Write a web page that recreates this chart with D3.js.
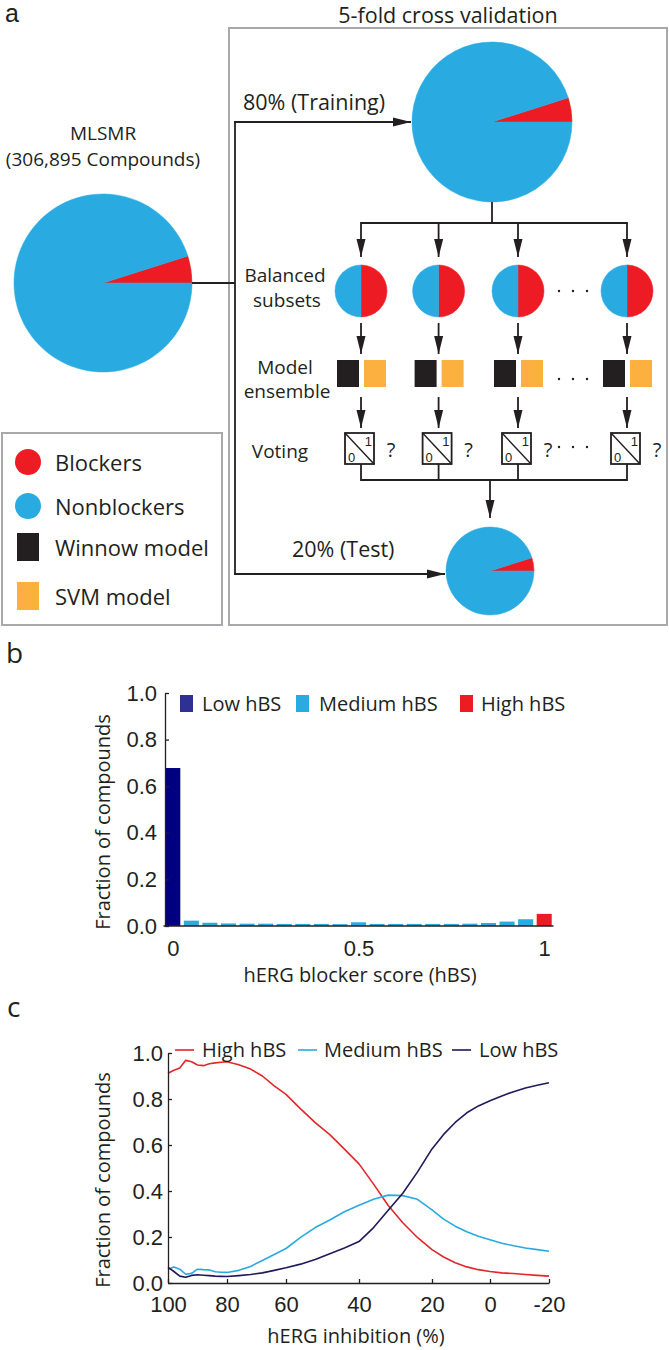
<!DOCTYPE html>
<html>
<head>
<meta charset="utf-8">
<script src="https://cdn.jsdelivr.net/npm/d3@7"></script>
<style>
  body { margin: 0; background: #fff; }
  svg text { fill: #231f20; }
</style>
</head>
<body>
<svg id="fig" width="669" height="1350"></svg>
<script>
// ---------- data ----------
var pieGroups = ["Blockers", "Nonblockers"]
var mlsmrSplit = [0.049, 0.951]     // blockers / nonblockers
var balancedSplit = [0.5, 0.5]
var legendItems = ["Blockers", "Nonblockers", "Winnow model", "SVM model"]

var hbsBins = [0, 0.05, 0.1, 0.15, 0.2, 0.25, 0.3, 0.35, 0.4, 0.45, 0.5,
               0.55, 0.6, 0.65, 0.7, 0.75, 0.8, 0.85, 0.9, 0.95, 1]
var hbsFraction = [0.678, 0.023, 0.014, 0.011, 0.010, 0.010, 0.009, 0.009, 0.009, 0.008, 0.016,
                   0.009, 0.009, 0.009, 0.009, 0.009, 0.010, 0.013, 0.019, 0.029, 0.052]
var hbsClass = ["Low", "Medium", "Medium", "Medium", "Medium", "Medium", "Medium", "Medium",
                "Medium", "Medium", "Medium", "Medium", "Medium", "Medium", "Medium", "Medium",
                "Medium", "Medium", "Medium", "Medium", "High"]
var hbsTicks = [0, 0.5, 1]
var fracTicks = [0, 0.2, 0.4, 0.6, 0.8, 1]

var inhibition = [100, 98, 96, 94, 92, 90, 88, 86, 84, 82, 80, 76, 72, 68, 64, 60, 56, 52,
                  48, 44, 40, 36, 32, 28, 24, 20, 16, 12, 8, 4, 0, -4, -8, -12, -16, -20]
var highHbs = [0.912, 0.925, 0.935, 0.968, 0.962, 0.948, 0.945, 0.953, 0.957, 0.960, 0.962, 0.949,
               0.930, 0.900, 0.857, 0.820, 0.757, 0.697, 0.645, 0.582, 0.518, 0.430, 0.337, 0.262,
               0.198, 0.145, 0.113, 0.088, 0.070, 0.058, 0.050, 0.044, 0.041, 0.037, 0.033, 0.030]
var mediumHbs = [0.060, 0.070, 0.060, 0.038, 0.042, 0.060, 0.058, 0.057, 0.049, 0.047, 0.046, 0.055,
                 0.072, 0.098, 0.124, 0.150, 0.198, 0.241, 0.274, 0.310, 0.338, 0.364, 0.382, 0.380,
                 0.364, 0.318, 0.278, 0.247, 0.223, 0.203, 0.188, 0.173, 0.162, 0.152, 0.145, 0.138]
var lowHbs = [0.068, 0.050, 0.030, 0.025, 0.033, 0.036, 0.034, 0.032, 0.030, 0.029, 0.028, 0.032,
              0.037, 0.044, 0.055, 0.066, 0.082, 0.102, 0.127, 0.152, 0.180, 0.241, 0.316, 0.390,
              0.482, 0.583, 0.646, 0.698, 0.740, 0.770, 0.792, 0.813, 0.832, 0.848, 0.860, 0.871]
var inhibitionTicks = [100, 80, 60, 40, 20, 0, -20]

// ---------- style ----------
var SANS = "'Open Sans', sans-serif"
var NUM = "'Liberation Sans', Arial, sans-serif"
var INK = "#231f20"
var pieColor = { Blockers: "#ed1c24", Nonblockers: "#29abe2" }
var modelColor = ["#231f20", "#fbb040"]
var barColor = { Low: "#000080", Medium: "#29abe2", High: "#ed1c24" }
var keyColor = { Low: "#2e3192", Medium: "#29abe2", High: "#ed1c24" }
var lineColor = { High: "#e2262c", Medium: "#2aa9e0", Low: "#1f1a5c" }

var svg = d3.select("#fig")

function txt(sel, x, y, s, o) {
  o = o || {}
  return sel.append("text")
    .attr("x", x).attr("y", y)
    .attr("text-anchor", o.anchor || "start")
    .attr("font-size", o.size || 20)
    .attr("font-family", o.family || SANS)
    .text(s)
}

svg.append("defs").append("marker")
  .attr("id", "ah")
  .attr("markerUnits", "userSpaceOnUse")
  .attr("viewBox", "-18 -5 18 10")
  .attr("refX", 0).attr("refY", 0)
  .attr("markerWidth", 18).attr("markerHeight", 10)
  .attr("orient", "auto")
  .append("path").attr("d", "M0,0L-18,-4.5L-18,4.5Z").attr("fill", INK)

function seg(sel, x1, y1, x2, y2, arrow) {
  var l = sel.append("line")
    .attr("x1", x1).attr("y1", y1).attr("x2", x2).attr("y2", y2)
    .attr("stroke", INK).attr("stroke-width", 1.8)
  if (arrow) l.attr("marker-end", "url(#ah)")
  return l
}

function drawPie(sel, cx, cy, r, split, start) {
  var pie = d3.pie().sort(null).startAngle(start).endAngle(start + 2 * Math.PI)
  var arc = d3.arc().innerRadius(0).outerRadius(r)
  sel.append("g").attr("transform", "translate(" + cx + "," + cy + ")")
    .selectAll("path").data(pie(split)).join("path")
    .attr("d", arc)
    .attr("fill", function (d, i) { return pieColor[pieGroups[i]] })
    .attr("stroke", function (d, i) { return pieColor[pieGroups[i]] })
    .attr("stroke-width", 0.5)
}

// ================= panel a =================
var a = svg.append("g")
txt(a, 5, 22, "a", { size: 25, family: NUM })
txt(a, 448, 23, "5-fold cross validation", { anchor: "middle", size: 21.5 })

a.append("rect").attr("x", 229).attr("y", 28).attr("width", 438).attr("height", 597)
  .attr("fill", "none").attr("stroke", "#a7a9ac").attr("stroke-width", 2)
a.append("rect").attr("x", 2).attr("y", 433).attr("width", 220).attr("height", 192)
  .attr("fill", "none").attr("stroke", "#a7a9ac").attr("stroke-width", 2)

var blockStart = Math.PI / 2 - 2 * Math.PI * mlsmrSplit[0]

// MLSMR
txt(a, 103, 140, "MLSMR", { anchor: "middle", size: 19 })
txt(a, 103, 166, "(306,895 Compounds)", { anchor: "middle", size: 19 })
drawPie(a, 103, 283, 89, mlsmrSplit, blockStart)

// split arrows
seg(a, 192, 283, 235, 283)
seg(a, 235, 122, 235, 574)
seg(a, 234, 122, 411, 122, true)
seg(a, 234, 574, 445, 574, true)
txt(a, 243, 110, "80% (Training)", { size: 21.5 })
txt(a, 292, 557, "20% (Test)", { size: 21.5 })

// training pie
drawPie(a, 492, 122, 80, mlsmrSplit, blockStart)

var cols = [361, 438.6, 518, 627]
seg(a, 492, 202, 492, 223)
seg(a, cols[0], 223, cols[3], 223)
cols.forEach(function (c) {
  seg(a, c, 222, c, 257, true)
  drawPie(a, c, 291, 26, balancedSplit, 0)
  seg(a, c, 323, c, 354, true)
  a.append("rect").attr("x", c - 24).attr("y", 360).attr("width", 22).attr("height", 27).attr("fill", modelColor[0])
  a.append("rect").attr("x", c + 3).attr("y", 360).attr("width", 22).attr("height", 27).attr("fill", modelColor[1])
  seg(a, c, 397, c, 428, true)
  a.append("rect").attr("x", c - 16).attr("y", 433).attr("width", 29).attr("height", 31)
    .attr("fill", "#fff").attr("stroke", INK).attr("stroke-width", 1.8)
  seg(a, c - 16, 433, c + 13, 464).attr("stroke-width", 1.4)
  txt(a, c + 11, 446, "1", { anchor: "end", size: 13, family: NUM })
  txt(a, c - 13, 462, "0", { size: 13, family: NUM })
  txt(a, c + 30, 457, "?", { anchor: "middle", size: 20 })
  seg(a, c, 464, c, 481)
})
seg(a, cols[0], 480, cols[3], 480)
seg(a, 490, 480, 490, 518, true)

// ellipsis dots
;[291, 379, 447].forEach(function (y) {
  a.selectAll(null).data([559, 573, 587]).join("circle")
    .attr("cx", function (d) { return d }).attr("cy", y).attr("r", 1.2).attr("fill", INK)
})

txt(a, 285, 282, "Balanced", { anchor: "middle", size: 19 })
txt(a, 287, 307, "subsets", { anchor: "middle", size: 19 })
txt(a, 285, 374, "Model", { anchor: "middle", size: 19 })
txt(a, 287, 398, "ensemble", { anchor: "middle", size: 19 })
txt(a, 280, 458, "Voting", { anchor: "middle", size: 19 })

// test pie
drawPie(a, 490, 571, 44, mlsmrSplit, blockStart)

// legend
var legY = [462, 506, 547, 596]
legendItems.forEach(function (name, i) {
  if (i < 2) {
    a.append("circle").attr("cx", 28).attr("cy", legY[i]).attr("r", 13).attr("fill", pieColor[name])
  } else {
    a.append("rect").attr("x", 17).attr("y", legY[i] - 14).attr("width", 22).attr("height", 28)
      .attr("fill", modelColor[i - 2])
  }
  txt(a, 55, legY[i] + 9, name, { size: 22 })
})

// ================= panel b =================
var b = svg.append("g")
txt(b, 6, 663, "b", { size: 28 })

var yb = d3.scaleLinear().domain([0, 1]).range([926, 693])
var xBand = d3.scaleBand().domain(hbsBins).range([163.5, 553.5]).paddingInner(0.19).paddingOuter(0.095)
var xb = d3.scaleLinear().domain([0, 1])
  .range([xBand(0) + xBand.bandwidth() / 2, xBand(1) + xBand.bandwidth() / 2])

b.selectAll("rect.bar").data(hbsBins).join("rect").attr("class", "bar")
  .attr("x", function (d) { return xBand(d) })
  .attr("width", xBand.bandwidth())
  .attr("y", function (d, i) { return yb(hbsFraction[i]) })
  .attr("height", function (d, i) { return yb(0) - yb(hbsFraction[i]) })
  .attr("fill", function (d, i) { return barColor[hbsClass[i]] })

b.append("g").attr("transform", "translate(165,0)")
  .call(d3.axisLeft(yb).tickValues(fracTicks).tickFormat(d3.format(".1f"))
    .tickSizeInner(-4).tickSizeOuter(0).tickPadding(8))
var bxAxis = b.append("g").attr("transform", "translate(0,926)")
  .call(d3.axisBottom(xb).tickValues(hbsTicks).tickFormat(function (d) { return String(d) })
    .tickSize(0).tickPadding(14))
bxAxis.select(".domain").remove()
b.append("line").attr("x1", xBand.range()[0]).attr("x2", xBand.range()[1])
  .attr("y1", 926).attr("y2", 926).attr("stroke", INK).attr("stroke-width", 1.3)

txt(b, 360, 982, "hERG blocker score (hBS)", { anchor: "middle", size: 20 })
txt(b, 0, 0, "Fraction of compounds", { anchor: "middle", size: 20 })
  .attr("transform", "translate(110,822) rotate(-90)")

var bKey = [["Low", 180, 202], ["Medium", 296, 319], ["High", 460, 481]]
bKey.forEach(function (k) {
  b.append("rect").attr("x", k[1]).attr("y", 695).attr("width", 13).attr("height", 17).attr("fill", keyColor[k[0]])
  txt(b, k[2], 711, k[0] + " hBS", { size: 20 })
})

// ================= panel c =================
var c = svg.append("g")
txt(c, 7, 1017, "c", { size: 28 })

var yc = d3.scaleLinear().domain([0, 1]).range([1283, 1053])
var xc = d3.scaleLinear().domain(inhibitionTicks).range([168, 227, 286, 359, 432, 490, 549])

var series = [["High", highHbs], ["Medium", mediumHbs], ["Low", lowHbs]]
var line = d3.line()
  .x(function (d, i) { return xc(inhibition[i]) })
  .y(function (d) { return yc(d) })
series.forEach(function (s) {
  c.append("path").datum(s[1]).attr("d", line)
    .attr("fill", "none").attr("stroke", lineColor[s[0]]).attr("stroke-width", 1.6)
    .attr("stroke-linejoin", "round")
})

c.append("g").attr("transform", "translate(168,0)")
  .call(d3.axisLeft(yc).tickValues(fracTicks).tickFormat(d3.format(".1f"))
    .tickSizeInner(-4).tickSizeOuter(0).tickPadding(5))
c.append("g").attr("transform", "translate(0,1283)")
  .call(d3.axisBottom(xc).tickValues(inhibitionTicks).tickFormat(function (d) { return String(d) })
    .tickSizeInner(-4).tickSizeOuter(0).tickPadding(13))

txt(c, 356, 1343, "hERG inhibition (%)", { anchor: "middle", size: 20 })
txt(c, 0, 0, "Fraction of compounds", { anchor: "middle", size: 20 })
  .attr("transform", "translate(110,1180) rotate(-90)")

var cKey = [["High", 175, 202], ["Medium", 298, 324], ["Low", 452, 479]]
cKey.forEach(function (k) {
  c.append("line").attr("x1", k[1]).attr("x2", k[1] + 19).attr("y1", 1050).attr("y2", 1050)
    .attr("stroke", lineColor[k[0]]).attr("stroke-width", 1.6)
  txt(c, k[2], 1057, k[0] + " hBS", { size: 20 })
})

// axis styling
svg.selectAll(".tick text").attr("font-family", NUM).attr("font-size", 22).attr("fill", INK)
svg.selectAll(".domain, .tick line").attr("stroke", INK).attr("stroke-width", 1.3)
</script>
</body>
</html>
